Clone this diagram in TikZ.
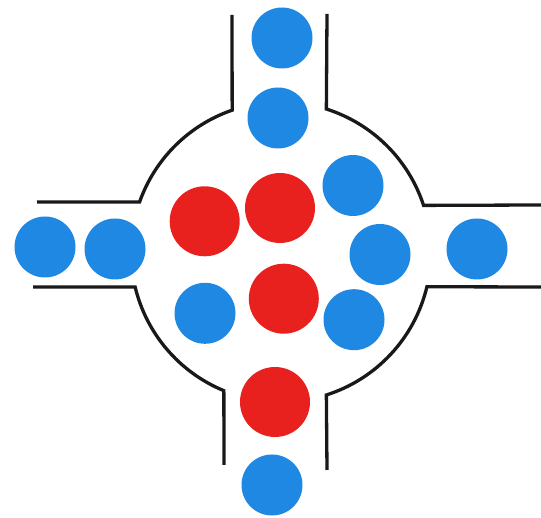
\documentclass[tikz,border=0pt]{standalone}
\definecolor{ballblue}{RGB}{30,136,226}
\definecolor{ballred}{RGB}{232,32,30}
\begin{document}
\begin{tikzpicture}[x=1pt,y=1pt,
  wall/.style={line width=3.3pt,black!90,line join=miter},
  blueball/.style={circle,fill=ballblue,minimum size=61pt,inner sep=0pt},
  redball/.style={circle,fill=ballred,minimum size=70pt,inner sep=0pt}]
\useasboundingbox (0,0) rectangle (541,518);
\coordinate (c) at (281,266);
% walls
\coordinate (tl) at (232,503);
\coordinate (lt) at (37,316);
\coordinate (lb) at (33,231);
\coordinate (bl) at (224,53);
\coordinate (br) at (327,48);
\coordinate (rb) at (541,231);
\coordinate (rt) at (541,313);
\coordinate (tr) at (327,504);
\draw[wall] (tl) -- ([shift={(c)}]109:150) arc[start angle=109,end angle=160.5,radius=150] -- (lt);
\draw[wall] (lb) -- ([shift={(c)}]193.5:150) arc[start angle=193.5,end angle=247.6,radius=150] -- (bl);
\draw[wall] (br) -- ([shift={(c)}]287.6:150) arc[start angle=287.6,end angle=346.6,radius=150] -- (rb);
\draw[wall] (rt) -- ([shift={(c)}]18.1:150) arc[start angle=18.1,end angle=72.4,radius=150] -- (tr);
% blue balls
\node[blueball] (b1) at (282,480) {};
\node[blueball] (b2) at (278,400) {};
\node[blueball] (b3) at (353,332.5) {};
\node[blueball] (b4) at (380,263.5) {};
\node[blueball] (b5) at (45,271) {};
\node[blueball] (b6) at (115,269) {};
\node[blueball] (b7) at (477,269) {};
\node[blueball] (b8) at (205,204.7) {};
\node[blueball] (b9) at (354,198.3) {};
\node[blueball] (b10) at (272,33) {};
% red balls
\node[redball] (r1) at (204.7,296.7) {};
\node[redball] (r2) at (280,310) {};
\node[redball] (r3) at (283.8,219.3) {};
\node[redball] (r4) at (275,116) {};
\end{tikzpicture}
\end{document}
